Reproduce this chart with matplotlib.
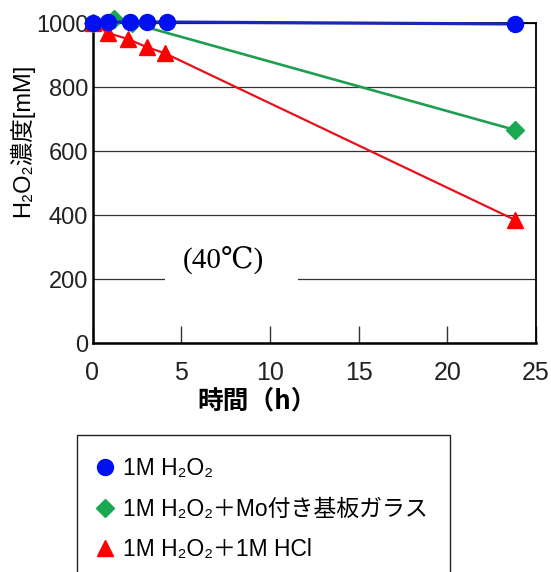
import matplotlib
matplotlib.use("Agg")
import matplotlib.pyplot as plt
from matplotlib.lines import Line2D
from matplotlib.patches import Rectangle

# H2O2 decomposition at 40 °C
time_h2o2 = [0, 0.9, 2.1, 3.1, 4.2, 23.8]
conc_h2o2 = [1000, 1003, 1003, 1003, 1003, 997]

time_mo = [0, 1.2, 2.2, 23.8]
conc_mo = [1000, 1012, 1000, 666]

time_hcl = [0, 0.9, 2.0, 3.05, 4.1, 23.8]
conc_hcl = [1000, 968, 950, 925, 905, 385]

labels = ["1M H₂O₂", "1M H₂O₂＋Mo付き基板ガラス", "1M H₂O₂＋1M HCl"]
x_ticks = [0, 5, 10, 15, 20, 25]
y_ticks = [0, 200, 400, 600, 800, 1000]

blue_line, blue_mk = "#1a28b4", "#0010f0"
green_line, green_mk = "#1f9e4f", "#1aa850"
red_line, red_mk = "#e8101a", "#ff0000"

W, H = 551, 572
fig = plt.figure(figsize=(W / 100, H / 100), dpi=100)
ax = fig.add_axes([92.5 / W, 1 - 343 / H, (536 - 92.5) / W, (343 - 23) / H])

ax.plot(time_hcl, conc_hcl, color=red_line, lw=1.6, marker="^", ms=11,
        mfc=red_mk, mec=red_mk, clip_on=False, zorder=3)
ax.plot(time_mo, conc_mo, color=green_line, lw=1.9, marker="D", ms=9,
        mfc=green_mk, mec=green_mk, clip_on=False, zorder=4)
ax.plot(time_h2o2, conc_h2o2, color=blue_line, lw=2.3, marker="o", ms=11.5,
        mfc=blue_mk, mec=blue_mk, clip_on=False, zorder=5)

ax.set_xlim(0, 25)
ax.set_ylim(0, 1000)
ax.set_xticks(x_ticks)
ax.set_yticks(y_ticks)
ax.set_axisbelow(True)
ax.grid(axis="y", color="#333333", lw=0.9)

ax.tick_params(axis="x", direction="in", length=12, width=1.0, pad=13,
               labelsize=18, color="#333333")
ax.tick_params(axis="y", length=0, pad=3, labelsize=17)
for lab in ax.get_xticklabels() + ax.get_yticklabels():
    lab.set_family(["Liberation Sans", "DejaVu Sans"])
    lab.set_color("#222222")

for side in ("left", "bottom"):
    ax.spines[side].set_linewidth(1.8)
for side in ("right", "top"):
    ax.spines[side].set_linewidth(1.3)

# Blank strip behind the temperature note
ax.add_patch(Rectangle((4.1, 150), 7.5, 200, facecolor="white",
                       edgecolor="none", zorder=1))
ax.text(7.4, 256, "(40℃)", ha="center", va="center", fontsize=21,
        family=["Liberation Serif", "DejaVu Serif", "Noto Sans CJK JP"],
        zorder=2)

ax.set_ylabel("H₂O₂濃度[mM]", fontsize=17,
              family=["Liberation Sans", "Noto Sans CJK JP", "DejaVu Sans"])
ax.yaxis.set_label_coords(-0.131, 0.634)
ax.set_xlabel("時間（h）", fontsize=18.5, fontweight="bold", va="center",
              family=["Noto Sans CJK JP", "DejaVu Sans"])
ax.xaxis.set_label_coords(0.372, -0.181)

handles = [
    Line2D([], [], ls="none", marker="o", ms=11.5, mfc=blue_mk, mec=blue_mk),
    Line2D([], [], ls="none", marker="D", ms=9, mfc=green_mk, mec=green_mk),
    Line2D([], [], ls="none", marker="^", ms=11, mfc=red_mk, mec=red_mk),
]
leg = fig.legend(handles, labels, loc="upper left",
                 bbox_to_anchor=(77 / W, 1 - 435 / H),
                 bbox_transform=fig.transFigure,
                 prop={"family": ["Liberation Sans", "Noto Sans CJK JP", "DejaVu Sans"],
                       "size": 16.5},
                 frameon=True, fancybox=False, framealpha=1,
                 edgecolor="#222222", borderpad=0.98, labelspacing=0.76,
                 handlelength=0.45, handletextpad=0.56, borderaxespad=0)
leg.get_frame().set_linewidth(1.0)

fig.savefig("out.png", dpi=100)
